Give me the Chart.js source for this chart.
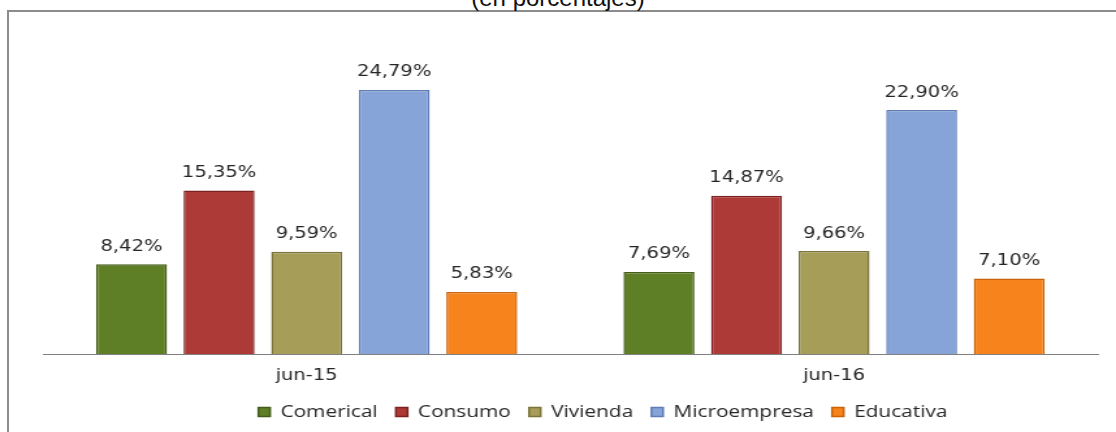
<!DOCTYPE html>
<html>
<head>
<meta charset="utf-8">
<script src="https://cdn.jsdelivr.net/npm/chart.js@4"></script>
<style>
  html, body { margin: 0; padding: 0; background: #fff; overflow: hidden; }
  #page { position: relative; width: 1116px; height: 432px; overflow: hidden; }
  #title { position: absolute; left: 0; width: 1116px; top: -14px; text-align: center;
      font: 24px "Liberation Sans", Arial, sans-serif; line-height: 24px; color: #111; }
  #frame { position: absolute; left: 7px; top: 10px; width: 1200px; height: 500px;
      border-top: 2px solid #8c8c8c; border-left: 2px solid #8c8c8c; }
  /* the reference looks stretched sideways, so the chart is drawn narrow and widened */
  #wrap { position: absolute; left: 0; top: 0; width: 858px; height: 432px;
      transform: scaleX(1.3007); transform-origin: 0 0; }
</style>
</head>
<body>
<div id="page">
  <div id="frame"></div>
  <div id="title">(en porcentajes)</div>
  <div id="wrap"><canvas id="chartCartera"></canvas></div>
</div>
<script>
// categories on the x axis
const periodos = ["jun-15", "jun-16"];

// one series per credit type, values in %
const comerical = [8.42, 7.69];
const consumo = [15.35, 14.87];
const vivienda = [9.59, 9.66];
const microempresa = [24.79, 22.90];
const educativa = [5.83, 7.10];

// series names and colours
const nombres = ["Comerical", "Consumo", "Vivienda", "Microempresa", "Educativa"];
const colores = ["#5f7f26", "#ad3a37", "#a69d58", "#86a4d8", "#f7831c"];
const bordes = ["#435c17", "#7c2321", "#7b733a", "#5f7cb5", "#c96208"];

const series = [comerical, consumo, vivienda, microempresa, educativa];

// return dataset {label, data, colours}
function createSerie (i) {
    return { label: nombres[i], data: series[i], backgroundColor: colores[i],
        borderColor: bordes[i], borderWidth: 1.5,
        categoryPercentage: 0.83, barPercentage: 0.81 }; }

// write "8,42%" on top of every bar
const valueLabels = {
    id: 'valueLabels',
    afterDatasetsDraw (chart) {
        const ctx = chart.ctx;
        ctx.save();
        ctx.font = '15px "DejaVu Sans", Verdana, sans-serif';
        ctx.fillStyle = '#262626';
        ctx.textAlign = 'center';
        ctx.textBaseline = 'middle';
        chart.data.datasets.forEach((ds, i) => {
            chart.getDatasetMeta(i).data.forEach((bar, j) => {
                let txt = ds.data[j].toFixed(2).replace('.', ',') + '%';
                ctx.fillText(txt, bar.x, bar.y - 17.5); }); });
        ctx.restore(); }
};

// legend in the reference sits a little right of the middle
const legendShift = {
    id: 'legendShift',
    afterLayout (chart) {
        chart.legend.left += 25;
        chart.legend.right += 25; }
};

const chartCartera = new Chart("chartCartera", {
    type: 'bar',
    data: {
        labels: periodos,
        datasets: nombres.map((n, i) => createSerie(i))
    },
    options: {
        responsive: true,
        maintainAspectRatio: false,
        animation: false,
        layout: { padding: { top: 34.5, left: 33, right: 14, bottom: 2 } },
        scales: {
            x: {
                grid: { display: false, drawTicks: false },
                border: { display: true, color: '#808080', width: 1 },
                ticks: { padding: 13, color: '#262626',
                    font: { family: '"DejaVu Sans", Verdana, sans-serif', size: 15 } },
                afterFit: (scale) => { scale.height = 36; }
            },
            y: { display: false, min: 0, max: 30 }
        },
        plugins: {
            legend: {
                position: 'bottom',
                labels: { boxWidth: 9, boxHeight: 9, padding: 14, color: '#262626',
                    font: { family: '"Open Sans", sans-serif', size: 16 } }
            },
            tooltip: { enabled: false }
        }
    },
    plugins: [valueLabels, legendShift]
});
</script>
</body>
</html>
